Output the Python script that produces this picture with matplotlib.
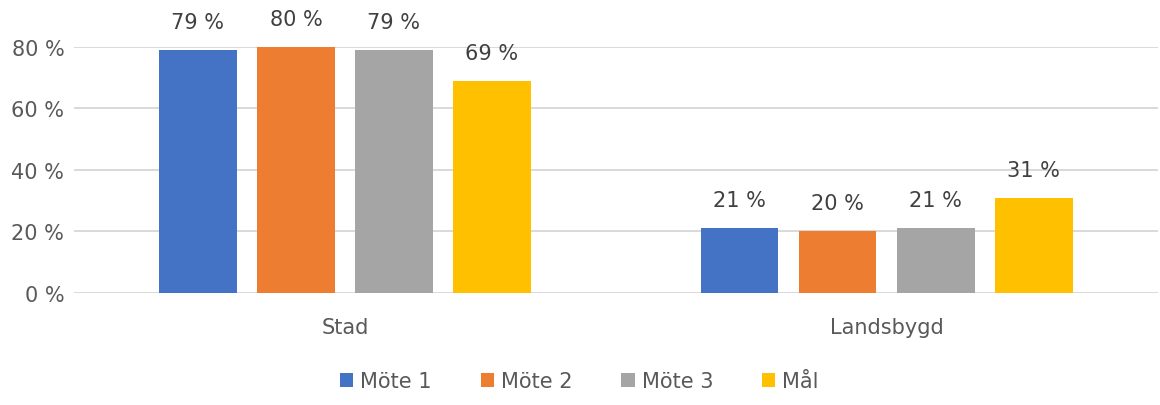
import matplotlib
matplotlib.use("Agg")
import matplotlib.pyplot as plt
import numpy as np

categories = ["Stad", "Landsbygd"]
series_names = ["Möte 1", "Möte 2", "Möte 3", "Mål"]
mote1 = [79, 21]
mote2 = [80, 20]
mote3 = [79, 21]
mal = [69, 31]
colors = ["#4472C4", "#ED7D31", "#A5A5A5", "#FFC000"]

text_color = "#595959"
fs = 15
plt.rcParams["font.family"] = ["DejaVu Sans"]

fig = plt.figure(figsize=(11.6, 4.06), dpi=100)
ax = fig.add_axes([0.0638, 0.2759, 0.9342, 0.6059])

x = np.arange(len(categories))
width = 0.143
step = 0.181
all_series = [mote1, mote2, mote3, mal]
for i, (vals, name, c) in enumerate(zip(all_series, series_names, colors)):
    pos = x + (i - 1.5) * step
    bars = ax.bar(pos, vals, width, color=c, label=name, zorder=2, clip_on=False)
    for b, v in zip(bars, vals):
        ax.annotate(f"{v} %", (b.get_x() + b.get_width() / 2, v),
                    xytext=(0, 13), textcoords="offset points",
                    ha="center", va="bottom", fontsize=fs, color="#404040")

ax.set_xlim(-0.5, 1.5)
ax.set_ylim(0, 80)
ax.set_yticks([0, 20, 40, 60, 80])
ax.set_yticklabels([f"{t} %" for t in [0, 20, 40, 60, 80]])
ax.set_xticks(x)
ax.set_xticklabels(categories)
ax.grid(axis="y", color="#D9D9D9", linewidth=1.4, zorder=0)
ax.set_axisbelow(True)
for s in ax.spines.values():
    s.set_visible(False)
ax.tick_params(axis="both", length=0, colors=text_color, labelsize=fs)
ax.tick_params(axis="x", pad=17)
ax.tick_params(axis="y", pad=7)

fig.legend(loc="center", bbox_to_anchor=(0.4995, 0.059), ncol=4, frameon=False,
           fontsize=fs, labelcolor=text_color, handlelength=0.63, handleheight=0.63,
           handletextpad=0.34, columnspacing=2.35)

fig.savefig("out.png", dpi=100)
